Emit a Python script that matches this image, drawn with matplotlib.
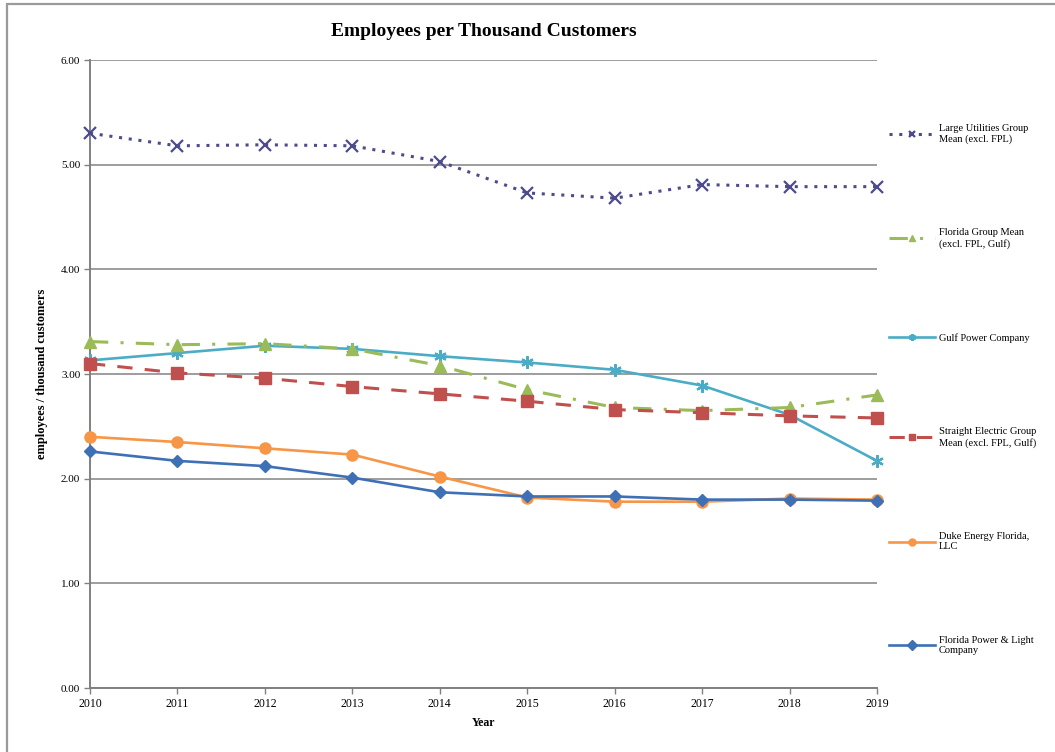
import matplotlib
matplotlib.use("Agg")
import matplotlib.pyplot as plt
from matplotlib.patches import Rectangle

plt.rcParams['font.family'] = ['Liberation Serif', 'DejaVu Serif']

years = [2010, 2011, 2012, 2013, 2014, 2015, 2016, 2017, 2018, 2019]
large_utilities = [5.30, 5.18, 5.19, 5.18, 5.03, 4.73, 4.68, 4.81, 4.79, 4.79]
florida_group = [3.31, 3.28, 3.29, 3.24, 3.08, 2.85, 2.68, 2.65, 2.68, 2.80]
gulf_power = [3.13, 3.20, 3.27, 3.24, 3.17, 3.11, 3.04, 2.89, 2.61, 2.17]
straight_electric = [3.10, 3.01, 2.96, 2.88, 2.81, 2.74, 2.66, 2.63, 2.60, 2.58]
duke_energy = [2.40, 2.35, 2.29, 2.23, 2.02, 1.82, 1.78, 1.78, 1.81, 1.80]
fpl = [2.26, 2.17, 2.12, 2.01, 1.87, 1.83, 1.83, 1.80, 1.80, 1.79]
y_ticks = [0, 1, 2, 3, 4, 5, 6]

labels = ["Large Utilities Group\nMean (excl. FPL)",
          "Florida Group Mean\n(excl. FPL, Gulf)",
          "Gulf Power Company",
          "Straight Electric Group\nMean (excl. FPL, Gulf)",
          "Duke Energy Florida,\nLLC",
          "Florida Power & Light\nCompany"]

fig = plt.figure(figsize=(10.55, 7.52), dpi=100)
fig.patches.append(Rectangle((7/1055, -0.1), 1.2, 1.1 - 4/752, transform=fig.transFigure,
                             fill=False, edgecolor='#9a9a9a', linewidth=1.6))
ax = fig.add_axes([90/1055, 1 - 688/752, (877 - 90)/1055, (688 - 60)/752])

lw = 1.9
l1, = ax.plot(years, large_utilities, color='#4E4B8C', linestyle=(0, (1, 2.2)), linewidth=2.2,
              marker='x', markersize=9, markeredgewidth=1.6, zorder=5)
l2, = ax.plot(years, florida_group, color='#9BBB59', linestyle=(0, (6, 4, 1, 4)), linewidth=2.2,
              marker='^', markersize=8, zorder=4)
l3, = ax.plot(years, gulf_power, color='#4BACC6', linestyle='-', linewidth=lw,
              marker=(6, 2, 0), markersize=9, markeredgewidth=1.6, zorder=3)
l4, = ax.plot(years, straight_electric, color='#C0504D', linestyle=(0, (5, 4)), linewidth=2.2,
              marker='s', markersize=8, zorder=4)
l5, = ax.plot(years, duke_energy, color='#F79646', linestyle='-', linewidth=lw,
              marker='o', markersize=8, zorder=3)
l6, = ax.plot(years, fpl, color='#3E70B5', linestyle='-', linewidth=lw,
              marker='D', markersize=6, zorder=4)

ax.set_xlim(2010, 2019)
ax.set_ylim(0, 6)
ax.set_xticks(years)
ax.set_xticklabels([str(y) for y in years], fontsize=8.5)
ax.set_yticks(y_ticks)
ax.set_yticklabels([f"{v:.2f}" for v in y_ticks], fontsize=8)
ax.tick_params(axis='both', direction='out', length=4, color='#808080', width=1, pad=3)
ax.grid(axis='y', color='#8c8c8c', linewidth=1.2)
ax.set_axisbelow(True)
for s in ['top', 'right']:
    ax.spines[s].set_visible(False)
for s in ['left', 'bottom']:
    ax.spines[s].set_color('#808080')
    ax.spines[s].set_linewidth(1.4)
for l in [l1, l2, l3, l4, l5, l6]:
    l.set_clip_on(False)

ax.set_title("Employees per Thousand Customers", fontsize=14, fontweight='bold', pad=17)
ax.set_xlabel("Year", fontsize=8.5, fontweight='bold', labelpad=5)
ax.set_ylabel("employees / thousand customers", fontsize=9, fontweight='bold', labelpad=9)

leg = ax.legend([l1, l2, l3, l4, l5, l6], labels, loc='upper left',
                bbox_to_anchor=(1.01, 0.905), frameon=False, fontsize=7.5,
                labelspacing=8.1, handlelength=4.4, handletextpad=0.35, borderaxespad=0)
for h in leg.legend_handles:
    h.set_markersize(5)

fig.savefig("out.png", dpi=100)
